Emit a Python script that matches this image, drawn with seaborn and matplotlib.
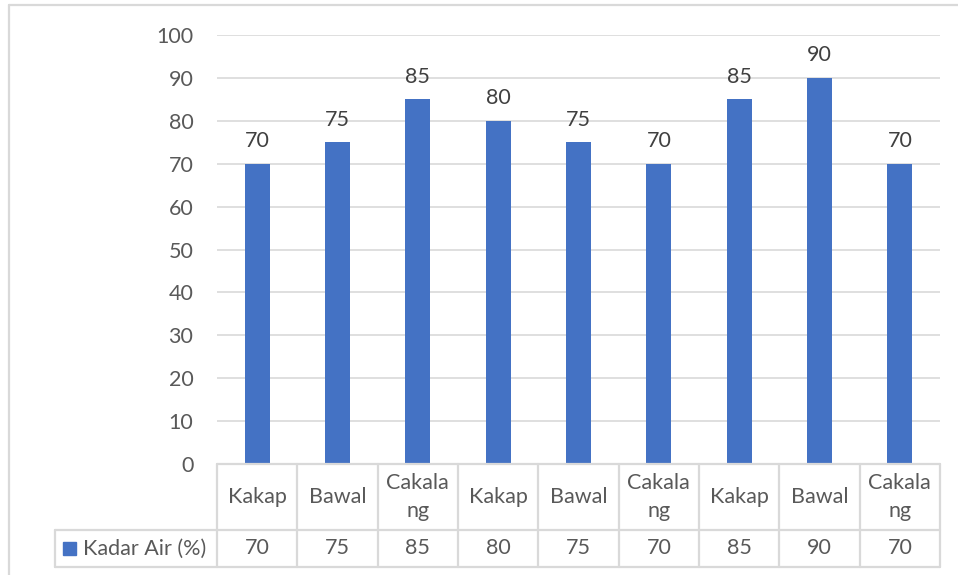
import matplotlib
matplotlib.use("Agg")
import matplotlib.pyplot as plt
from matplotlib.lines import Line2D
import seaborn as sns
import pandas as pd

# Data
categories = ["Kakap", "Bawal", "Cakala\nng", "Kakap", "Bawal", "Cakala\nng",
              "Kakap", "Bawal", "Cakala\nng"]
kadar_air = [70, 75, 85, 80, 75, 70, 85, 90, 70]
series_name = "Kadar Air (%)"
y_ticks = [0, 10, 20, 30, 40, 50, 60, 70, 80, 90, 100]

BAR = "#4472C4"
GRID = "#D9D9D9"
TICK_TXT = "#595959"
LBL_TXT = "#404040"
FS = 15.5

sns.set_theme(style="white")
plt.rcParams["font.family"] = ["Lato", "DejaVu Sans"]

W, H = 958, 575
fig = plt.figure(figsize=(W / 100, H / 100), dpi=100)

def fx(px):
    return px / W

def fy(py):
    return 1 - py / H

# Plot area in pixel coordinates
left, right, top, bottom = 217, 940, 35, 464
ax = fig.add_axes([fx(left), fy(bottom), fx(right - left), (bottom - top) / H])

df = pd.DataFrame({"pos": [str(i) for i in range(len(kadar_air))], "val": kadar_air})
sns.barplot(data=df, x="pos", y="val", color=BAR, saturation=1, width=0.31,
            linewidth=0, ax=ax)

ax.set_xlim(-0.5, len(kadar_air) - 0.5)
ax.set_ylim(0, 100)
ax.set_yticks(y_ticks)
ax.set_yticklabels([str(t) for t in y_ticks], fontsize=FS, color=TICK_TXT)
ax.tick_params(axis="y", length=0, pad=17)
ax.set_xticks([])
ax.set_xlabel("")
ax.set_ylabel("")
ax.yaxis.grid(True, color=GRID, linewidth=1.2)
ax.set_axisbelow(True)
for s in ax.spines.values():
    s.set_visible(False)

for i, v in enumerate(kadar_air):
    ax.annotate(str(v), (i, v), xytext=(0, 9), textcoords="offset points",
                ha="center", va="bottom", fontsize=FS, color=LBL_TXT)

# Data table under the plot
col_w = (right - left) / len(categories)
row1_bot, row2_bot = 530, 567
leg_left = 55

def hline(x0, x1, y):
    fig.add_artist(Line2D([fx(x0), fx(x1)], [fy(y), fy(y)], color=GRID, lw=1.6))

def vline(x, y0, y1):
    fig.add_artist(Line2D([fx(x), fx(x)], [fy(y0), fy(y1)], color=GRID, lw=1.6))

hline(left, right, bottom)
hline(leg_left, right, row1_bot)
hline(leg_left, right, row2_bot)
vline(leg_left, row1_bot, row2_bot)
for k in range(len(categories) + 1):
    vline(left + k * col_w, bottom, row2_bot)

for i, (c, v) in enumerate(zip(categories, kadar_air)):
    cx = left + (i + 0.5) * col_w
    fig.text(fx(cx), fy((bottom + row1_bot) / 2), c, ha="center", va="center",
             fontsize=FS, color=TICK_TXT, linespacing=1.5)
    fig.text(fx(cx), fy((row1_bot + row2_bot) / 2), str(v), ha="center", va="center",
             fontsize=FS, color=TICK_TXT)

# Legend key in the table
key = 13
fig.add_artist(plt.Rectangle((fx(63), fy(555)), fx(key), key / H, color=BAR,
                             transform=fig.transFigure))
fig.text(fx(83), fy(549), series_name, ha="left", va="center",
         fontsize=FS, color=TICK_TXT)

# Chart frame edges
fig.add_artist(Line2D([fx(9), 1], [fy(5), fy(5)], color=GRID, lw=1.6))
fig.add_artist(Line2D([fx(9), fx(9)], [fy(5), 0], color=GRID, lw=1.6))

fig.savefig("out.png", dpi=100, facecolor="white")
